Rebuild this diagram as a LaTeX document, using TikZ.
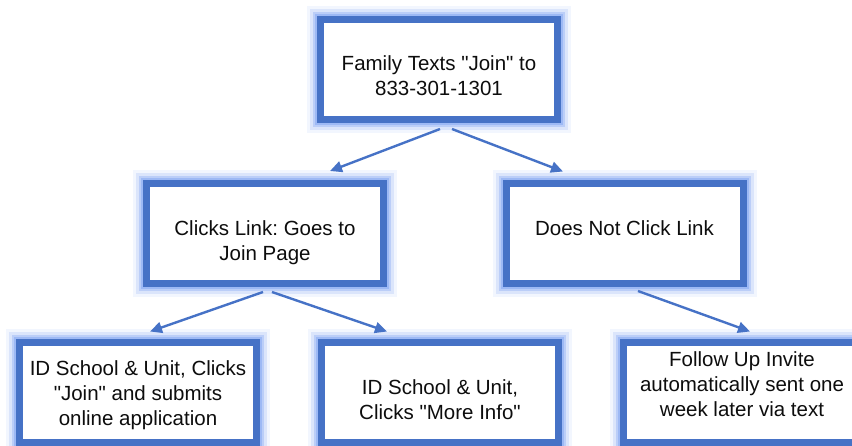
\documentclass[tikz,border=0pt]{standalone}
\usepackage{fontspec}
\setmainfont{Liberation Sans}
\usetikzlibrary{arrows.meta}
\definecolor{boxblue}{HTML}{4672C6}
\definecolor{glowblue}{HTML}{7FA4F2}
\newcommand{\qt}{\textquotedbl}
\frenchspacing
\begin{document}
\begin{tikzpicture}[x=1pt,y=-1pt,
  card/.style={draw=boxblue, line width=7pt, fill=white,
    minimum width=237pt, minimum height=100pt, inner sep=0pt,
    preaction={draw=glowblue, draw opacity=0.10, line width=27pt},
    preaction={draw=glowblue, draw opacity=0.20, line width=21pt},
    preaction={draw=glowblue, draw opacity=0.35, line width=15pt},
    preaction={draw=glowblue, draw opacity=0.50, line width=11pt}},
  words/.style={align=center, inner sep=0pt, text=black!95,
    font=\fontsize{20.5}{25}\selectfont},
  link/.style={draw=boxblue, line width=2.4pt,
    -{Triangle[length=12pt,width=11pt]}}]
  \useasboundingbox (0,0) rectangle (852,445);
  \clip (0,0) rectangle (852,445);

  % decision tree boxes
  \node[card] (join)     at (439,69.5)    {};
  \node[card] (clicks)   at (265,233.5)   {};
  \node[card] (noclick)  at (624.5,233.5) {};
  \node[card] (apply)    at (138,392)     {};
  \node[card] (info)     at (440,392)     {};
  \node[card] (followup) at (742,392)     {};

  % box captions
  \node[words] (join-t)     at ([shift={(0,6)}]join.center)      {Family Texts \qt Join\qt{} to\\833-301-1301};
  \node[words] (clicks-t)   at ([shift={(0,9)}]clicks.center)    {Clicks Link: Goes to\\Join Page};
  \node[words] (noclick-t)  at ([shift={(0,-5)}]noclick.center)  {Does Not Click Link};
  \node[words] (apply-t)    at ([shift={(0,3)}]apply.center)     {ID School \& Unit, Clicks\\\qt Join\qt{} and submits\\online application};
  \node[words] (info-t)     at ([shift={(0,8)}]info.center)      {ID School \& Unit,\\Clicks \qt More Info\qt};
  \node[words] (followup-t) at ([shift={(0,-8)}]followup.center) {Follow Up Invite\\automatically sent one\\week later via text};

  % branches
  \draw[link] ([shift={(1,6)}]join.south)     -- ([shift={(65,-9)}]clicks.north);
  \draw[link] ([shift={(13,6)}]join.south)    -- ([shift={(-61.5,-8.5)}]noclick.north);
  \draw[link] ([shift={(-2,5)}]clicks.south)  -- ([shift={(12,-7)}]apply.north);
  \draw[link] ([shift={(7,5)}]clicks.south)   -- ([shift={(-53,-7)}]info.north);
  \draw[link] ([shift={(13.5,4)}]noclick.south) -- ([shift={(8,-7)}]followup.north);
\end{tikzpicture}
\end{document}
